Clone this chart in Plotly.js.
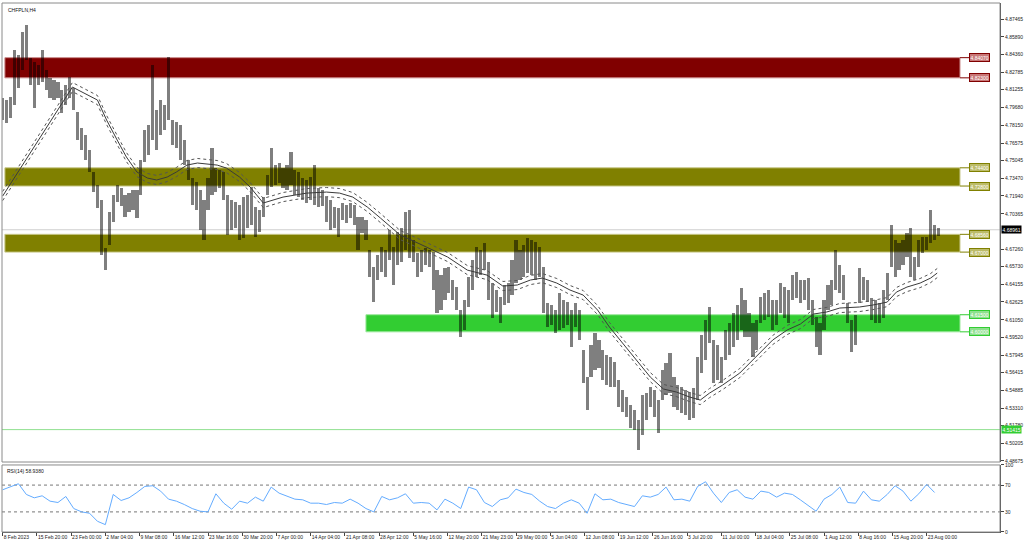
<!DOCTYPE html>
<html>
<head>
<meta charset="utf-8">
<script src="https://cdn.plot.ly/plotly-3.0.1.min.js"></script>
<style>html,body{margin:0;padding:0;background:#fff;}#chart{width:1024px;height:546px;}</style>
</head>
<body>
<div id="chart"></div>
<script>
// ---------- DATA ----------
const symbolTitle = "CHFPLN,H4";
const rsiTitle = "RSI(14) 58.9380";
// one sampled H4 bar every 3 chart bars (x = chart bar number)
const barStep = 3;
const barHigh = [
4.8053,4.8035,4.8061,4.8474,4.8430,4.8632,4.8693,4.8404,4.8369,4.8342,
4.8474,4.8298,4.8228,4.8211,4.8193,4.8123,4.8167,4.8237,4.8140,4.7930,
4.7789,4.7728,4.7596,4.7403,4.7289,4.7157,4.6736,4.7052,4.7201,4.7289,
4.7262,4.7201,4.7218,4.7245,4.7245,4.7508,4.7772,4.7815,4.8342,4.7947,
4.8035,4.7991,4.8413,4.7859,4.7842,4.7815,4.7684,4.7508,4.7350,4.7315,
4.7245,4.7157,4.7350,4.7614,4.7438,4.7420,4.7403,4.7201,4.7157,4.7139,
4.7113,4.7183,4.7201,4.7271,4.7096,4.7069,4.7183,4.7376,4.7614,4.7464,
4.7482,4.7438,4.7464,4.7578,4.7420,4.7403,4.7350,4.7333,4.7359,4.7464,
4.7262,4.7245,4.7183,4.7157,4.7096,4.7087,4.7131,4.7113,4.7131,4.7113,
4.7008,4.7008,4.6981,4.6718,4.6569,4.6674,4.6744,4.6718,4.6894,4.6744,
4.6876,4.6911,4.7052,4.7069,4.6806,4.6692,4.6718,4.6736,4.6718,4.6700,
4.6542,4.6498,4.6560,4.6569,4.6455,4.6393,4.6191,4.6279,4.6481,4.6630,
4.6744,4.6718,4.6779,4.6613,4.6428,4.6367,4.6305,4.6411,4.6428,4.6630,
4.6806,4.6718,4.6762,4.6823,4.6806,4.6788,4.6744,4.6569,4.6253,4.6235,
4.6191,4.6340,4.6279,4.6261,4.6191,4.6253,4.6191,4.5840,4.5603,4.5884,
4.5989,4.5928,4.5840,4.5796,4.5779,4.5735,4.5577,4.5489,4.5427,4.5357,
4.5313,4.5225,4.5445,4.5462,4.5515,4.5489,4.5401,4.5664,4.5726,4.5814,
4.5603,4.5533,4.5515,4.5489,4.5471,4.5506,4.5779,4.5972,4.6103,4.6218,
4.5928,4.5884,4.5779,4.6016,4.6077,4.6165,4.6235,4.6384,4.6279,4.6165,
4.6077,4.6103,4.6305,4.6340,4.6367,4.6279,4.6279,4.6428,4.6393,4.6367,
4.6498,4.6525,4.6455,4.6455,4.6472,4.6279,4.6130,4.6077,4.6279,4.6411,
4.6455,4.6718,4.6586,4.6498,4.6253,4.6103,4.6147,4.6560,4.6481,4.6455,
4.6297,4.6279,4.6253,4.6367,4.6516,4.6937,4.6806,4.6779,4.6806,4.6867,
4.6911,4.6657,4.6806,4.6832,4.6832,4.7069,4.6937,4.6911];
const barLow = [
4.7859,4.7833,4.7877,4.7991,4.8140,4.8298,4.8386,4.8167,4.7965,4.8167,
4.8193,4.8123,4.8053,4.8035,4.8053,4.7921,4.7991,4.8053,4.7947,4.7684,
4.7596,4.7508,4.7403,4.7227,4.7087,4.6674,4.6542,4.6762,4.6964,4.7139,
4.7104,4.7008,4.7052,4.7069,4.6999,4.7201,4.7491,4.7552,4.7684,4.7596,
4.7728,4.7772,4.7859,4.7640,4.7614,4.7508,4.7464,4.7333,4.7113,4.7069,
4.6894,4.6806,4.7069,4.7201,4.7227,4.7262,4.7157,4.6850,4.6894,4.6911,
4.6806,4.6823,4.6911,4.6937,4.6832,4.6876,4.7008,4.7201,4.7271,4.7289,
4.7306,4.7262,4.7245,4.7289,4.7201,4.7183,4.7157,4.7131,4.7157,4.7113,
4.7096,4.7104,4.6964,4.6894,4.6911,4.6832,4.6981,4.6955,4.6999,4.6937,
4.6718,4.6867,4.6806,4.6481,4.6261,4.6455,4.6525,4.6481,4.6630,4.6411,
4.6586,4.6613,4.6718,4.6648,4.6613,4.6481,4.6525,4.6586,4.6569,4.6367,
4.6165,4.6191,4.6279,4.6340,4.6279,4.6191,4.5954,4.6016,4.6218,4.6367,
4.6481,4.6498,4.6542,4.6279,4.6121,4.6174,4.6077,4.6235,4.6253,4.6323,
4.6428,4.6455,4.6481,4.6516,4.6498,4.6455,4.6481,4.6165,4.6042,4.6059,
4.5989,4.6016,4.6033,4.6059,4.5866,4.6042,4.5928,4.5550,4.5313,4.5603,
4.5664,4.5682,4.5577,4.5533,4.5515,4.5515,4.5340,4.5296,4.5252,4.5155,
4.5138,4.4962,4.5094,4.5225,4.5340,4.5252,4.5111,4.5401,4.5445,4.5462,
4.5340,4.5313,4.5287,4.5269,4.5225,4.5243,4.5401,4.5638,4.5752,4.5901,
4.5550,4.5577,4.5550,4.5752,4.5796,4.5866,4.5928,4.6016,4.5954,4.5954,
4.5779,4.5840,4.6077,4.6103,4.6130,4.6016,4.6059,4.6165,4.6121,4.6077,
4.6279,4.6297,4.6253,4.6279,4.6191,4.6059,4.5866,4.5796,4.6016,4.6191,
4.6235,4.6367,4.6340,4.6279,4.6077,4.5822,4.5884,4.6253,4.6279,4.6261,
4.6103,4.6077,4.6077,4.6121,4.6279,4.6569,4.6481,4.6542,4.6586,4.6657,
4.6481,4.6455,4.6569,4.6692,4.6718,4.6779,4.6806,4.6841];

// moving average with envelopes (chart bar number, price)
const maBar = [0,53,72,79,87,94,102,110,117,125,132,140,148,155,163,170,180,188,198,213,231,246,256,266,277,287,302,317,327,338,353,368,380,391,401,410,421,431,441,452,461,471,482,492,502,512,522,530,537,547,560,575,585,596,606,616,626,636,651,661,672,679,687,697,705,710];
const maMid = [4.7192,4.8149,4.8035,4.7859,4.7684,4.7535,4.7403,4.7350,4.7333,4.7359,4.7403,4.7464,4.7482,4.7473,4.7464,4.7438,4.7359,4.7271,4.7131,4.7183,4.7218,4.7227,4.7218,4.7183,4.7096,4.6999,4.6850,4.6771,4.6718,4.6657,4.6542,4.6498,4.6402,4.6411,4.6455,4.6472,4.6428,4.6367,4.6323,4.6191,4.6042,4.5901,4.5752,4.5603,4.5498,4.5471,4.5427,4.5401,4.5462,4.5533,4.5638,4.5814,4.5928,4.6016,4.6068,4.6156,4.6174,4.6209,4.6218,4.6235,4.6261,4.6349,4.6393,4.6428,4.6472,4.6516];
const maUpper = [4.7232,4.8189,4.8075,4.7899,4.7724,4.7575,4.7443,4.7390,4.7373,4.7399,4.7443,4.7504,4.7522,4.7513,4.7504,4.7478,4.7399,4.7311,4.7171,4.7223,4.7258,4.7267,4.7258,4.7223,4.7136,4.7039,4.6890,4.6811,4.6758,4.6697,4.6582,4.6538,4.6442,4.6451,4.6495,4.6512,4.6468,4.6407,4.6363,4.6231,4.6082,4.5941,4.5792,4.5643,4.5538,4.5511,4.5467,4.5441,4.5502,4.5573,4.5678,4.5854,4.5968,4.6056,4.6108,4.6196,4.6214,4.6249,4.6258,4.6275,4.6301,4.6389,4.6433,4.6468,4.6512,4.6556];
const maLower = [4.7152,4.8109,4.7995,4.7819,4.7644,4.7495,4.7363,4.7310,4.7293,4.7319,4.7363,4.7424,4.7442,4.7433,4.7424,4.7398,4.7319,4.7231,4.7091,4.7143,4.7178,4.7187,4.7178,4.7143,4.7056,4.6959,4.6810,4.6731,4.6678,4.6617,4.6502,4.6458,4.6362,4.6371,4.6415,4.6432,4.6388,4.6327,4.6283,4.6151,4.6002,4.5861,4.5712,4.5563,4.5458,4.5431,4.5387,4.5361,4.5422,4.5493,4.5598,4.5774,4.5888,4.5976,4.6028,4.6116,4.6134,4.6169,4.6178,4.6195,4.6221,4.6309,4.6353,4.6388,4.6432,4.6476];

// RSI(14), one reading every 6 chart bars
const rsiStep = 6;
const rsiValues = [63,67,72,56,51,54,46,44,53,35,
30,28,16,11,56,47,51,59,68,69,
61,49,46,41,35,31,30,57,43,34,
46,43,52,46,67,58,54,49,48,43,
43,41,44,43,49,43,35,30,53,48,
51,57,43,44,43,33,49,43,35,67,
63,44,38,48,51,64,59,56,46,38,
35,43,48,43,28,57,48,49,44,41,
38,54,52,56,67,48,49,46,68,75,
58,44,59,63,52,49,61,59,52,58,
56,48,39,31,49,56,67,44,43,61,
48,46,56,69,61,46,57,71,58.94];
const rsiLevels = [70, 30];
const rsiTicks = [0, 30, 70, 100];

// supply / demand zones
const zoneTop = [4.8407, 4.7440, 4.6856, 4.6150];
const zoneBottom = [4.8230, 4.7280, 4.6700, 4.6000];
const zoneStartBar = [1.7, 1.7, 1.7, 276];
const zoneEndBar = 727.3;

const currentPrice = 4.68961;
const markerPrice = 4.51415;

const priceTicks = [4.87465,4.85890,4.84360,4.82785,4.81255,4.79680,4.78150,4.76575,4.75045,4.73470,4.71940,4.70365,4.67260,4.65730,4.64155,4.62625,4.61050,4.59520,4.57945,4.56415,4.54885,4.53310,4.51780,4.50205,4.48675];
const timeLabels = ['8 Feb 2023','15 Feb 20:00','23 Feb 00:00','2 Mar 04:00','9 Mar 08:00','16 Mar 12:00','23 Mar 16:00','30 Mar 20:00','7 Apr 00:00','14 Apr 04:00','21 Apr 08:00','28 Apr 12:00','5 May 16:00','12 May 20:00','21 May 23:00','29 May 00:00','5 Jun 04:00','12 Jun 08:00','19 Jun 12:00','26 Jun 16:00','3 Jul 20:00','11 Jul 00:00','18 Jul 04:00','25 Jul 08:00','1 Aug 12:00','8 Aug 16:00','15 Aug 20:00','23 Aug 00:00'];
const barsPerTimeLabel = 26;

// ---------- STYLE ----------
const FONT = 'Liberation Sans, Arial, sans-serif';
const zoneFill = ['#800000', '#808000', '#808000', '#32cd32'];
const zoneEdge = ['#c98a8a', '#c8c88a', '#c8c88a', '#9be89b'];
const zoneLabelBg = ['#c87878', '#bcbc6a', '#bcbc6a', '#8ee08e'];

const barX = barHigh.map((_, i) => i * barStep);
const traces = [
  {type: 'bar', x: barX, base: barLow, y: barHigh.map((h, i) => h - barLow[i]),
   width: 2.4, marker: {color: 'rgba(0,0,0,0.5)', line: {width: 0}}, xaxis: 'x', yaxis: 'y', hoverinfo: 'skip'},
  {type: 'scatter', mode: 'lines', x: maBar, y: maUpper, line: {color: '#555', width: 1, dash: 'dot'}, xaxis: 'x', yaxis: 'y'},
  {type: 'scatter', mode: 'lines', x: maBar, y: maLower, line: {color: '#555', width: 1, dash: 'dot'}, xaxis: 'x', yaxis: 'y'},
  {type: 'scatter', mode: 'lines', x: maBar, y: maMid, line: {color: '#3a3a3a', width: 1}, xaxis: 'x', yaxis: 'y'},
  {type: 'scatter', mode: 'lines', x: rsiValues.map((_, k) => k * rsiStep), y: rsiValues,
   line: {color: '#64acff', width: 1}, xaxis: 'x', yaxis: 'y2'}
];

const shapes = [];
zoneTop.forEach((t, i) => {
  shapes.push({type: 'rect', layer: 'below', xref: 'x', yref: 'y', x0: zoneStartBar[i], x1: zoneEndBar,
    y0: zoneBottom[i], y1: t, fillcolor: zoneFill[i], line: {color: zoneEdge[i], width: 1}});
});
shapes.push({type: 'line', layer: 'below', xref: 'paper', yref: 'y', x0: 0, x1: 1, y0: currentPrice, y1: currentPrice, line: {color: '#cfcfcf', width: 1}});
shapes.push({type: 'line', layer: 'below', xref: 'paper', yref: 'y', x0: 0, x1: 1, y0: markerPrice, y1: markerPrice, line: {color: '#8fe08f', width: 1}});
rsiLevels.forEach(v => shapes.push({type: 'line', layer: 'below', xref: 'paper', yref: 'y2', x0: 0, x1: 1, y0: v, y1: v, line: {color: '#777', width: 1, dash: 'dot'}}));
shapes.push({type: 'rect', xref: 'paper', yref: 'y domain', x0: 0, x1: 1, y0: 0, y1: 1, line: {color: '#8a8a8a', width: 1}});
shapes.push({type: 'rect', xref: 'paper', yref: 'y2 domain', x0: 0, x1: 1, y0: 0, y1: 1, line: {color: '#8a8a8a', width: 1}});

const annotations = [
  {xref: 'paper', yref: 'paper', x: 0, y: 1, xshift: 4, yshift: -2, xanchor: 'left', yanchor: 'top', showarrow: false,
   text: symbolTitle, font: {family: FONT, size: 5, color: '#111'}},
  {xref: 'paper', yref: 'y2 domain', x: 0, y: 1, xshift: 3, yshift: -1, xanchor: 'left', yanchor: 'top', showarrow: false,
   text: rsiTitle, font: {family: FONT, size: 5, color: '#111'}},
  {xref: 'paper', yref: 'y', x: 1, y: currentPrice, xanchor: 'left', xshift: 1, showarrow: false, text: currentPrice.toFixed(5),
   bgcolor: '#000', borderpad: 0.5, font: {family: FONT, size: 5, color: '#fff'}},
  {xref: 'paper', yref: 'y', x: 1, y: markerPrice, xanchor: 'left', xshift: 1, showarrow: false, text: markerPrice.toFixed(5),
   bgcolor: '#32cd32', borderpad: 0.5, font: {family: FONT, size: 5, color: '#fff'}}
];
zoneTop.forEach((t, i) => {
  [t, zoneBottom[i]].forEach(p => annotations.push({
    xref: 'x', yref: 'y', x: zoneEndBar, y: p, ax: 20, ay: 0, showarrow: true, arrowhead: 0, arrowwidth: 1,
    arrowcolor: zoneFill[i], text: p.toFixed(5), bgcolor: zoneLabelBg[i], bordercolor: zoneFill[i], borderwidth: 1,
    borderpad: 0.5, font: {family: FONT, size: 5, color: '#fff'}
  }));
});

const layout = {
  width: 1024, height: 546,
  margin: {l: 2, r: 24, t: 3, b: 14},
  paper_bgcolor: '#fff', plot_bgcolor: '#fff',
  showlegend: false, hovermode: false, bargap: 0,
  xaxis: {domain: [0, 1], anchor: 'y2', range: [-0.5, 757.7], tickmode: 'array',
    tickvals: timeLabels.map((_, k) => k * barsPerTimeLabel), ticktext: timeLabels,
    ticks: 'outside', ticklen: 3, tickcolor: '#444', ticklabelposition: 'outside right', tickangle: 0,
    tickfont: {family: FONT, size: 5, color: '#222'}, showgrid: false, zeroline: false,
    showline: true, linecolor: '#555', linewidth: 1, automargin: false},
  yaxis: {domain: [0.1323, 1], anchor: 'x', side: 'right', range: [4.4857, 4.8887], tickmode: 'array',
    tickvals: priceTicks, ticktext: priceTicks.map(v => v.toFixed(5)), ticks: 'outside', ticklen: 3, tickcolor: '#444',
    tickfont: {family: FONT, size: 5, color: '#222'}, showgrid: false, zeroline: false,
    showline: true, linecolor: '#444', linewidth: 1},
  yaxis2: {domain: [0, 0.1267], anchor: 'x', side: 'right', range: [0, 100], tickmode: 'array',
    tickvals: rsiTicks, ticktext: rsiTicks.map(String), ticks: 'outside', ticklen: 3, tickcolor: '#444',
    tickfont: {family: FONT, size: 5, color: '#222'}, showgrid: false, zeroline: false,
    showline: true, linecolor: '#444', linewidth: 1},
  shapes: shapes,
  annotations: annotations
};

Plotly.newPlot('chart', traces, layout, {displayModeBar: false, staticPlot: true});
</script>
</body>
</html>
